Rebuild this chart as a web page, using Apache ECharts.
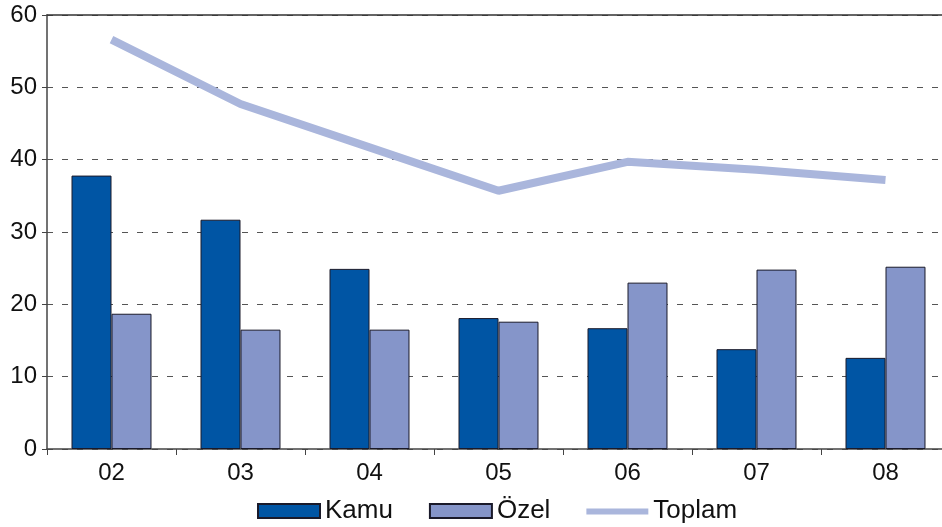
<!DOCTYPE html>
<html>
<head>
<meta charset="utf-8">
<script src="https://cdn.jsdelivr.net/npm/echarts@6/dist/echarts.min.js"></script>
<style>
  html, body { margin: 0; padding: 0; background: #fff; overflow: hidden; }
  #chart { width: 950px; height: 527px; }
</style>
</head>
<body>
<div id="chart"></div>
<script>
const years = ['02', '03', '04', '05', '06', '07', '08']
const kamu = [37.8, 31.7, 24.9, 18.1, 16.7, 13.8, 12.6]
const ozel = [18.7, 16.5, 16.5, 17.6, 23.0, 24.8, 25.2]
const toplam = [56.6, 47.7, 41.7, 35.7, 39.7, 38.6, 37.2]

const font = 'Liberation Sans, Arial, Helvetica, sans-serif'
// thin bar icon for the line legend item (tiny dots stretch the box to full height)
const lineIcon = 'path://M0,0h0.01v0.01h-0.01z M0,4.5h62v6H0z M0,14h0.01v0.01h-0.01z'

const chart = echarts.init(document.getElementById('chart'))

chart.setOption({
    animation: false,
    textStyle: { fontFamily: font },
    // the chart's last category runs a little past the visible edge
    grid: { left: 47, right: 0, top: 15, bottom: 78 },
    legend: {
        bottom: -2,
        left: 252,
        itemWidth: 62,
        itemHeight: 14,
        itemGap: 36,
        textStyle: { fontSize: 26, color: '#111', fontFamily: font },
        data: [
            { name: 'Kamu', icon: 'rect' },
            { name: 'Özel', icon: 'rect' },
            { name: 'Toplam', icon: lineIcon, itemStyle: { color: '#aab6dc', borderWidth: 0 } }
        ]
    },
    xAxis: [
        {
            type: 'category',
            data: years,
            axisLine: { lineStyle: { color: '#444', width: 1.5 } },
            axisTick: { show: true, length: 6, lineStyle: { color: '#444' } },
            axisLabel: { fontSize: 24, color: '#111', margin: 12 }
        },
        {
            type: 'category',
            position: 'top',
            data: years,
            axisLine: { show: true, lineStyle: { color: '#333', width: 1.5 } },
            axisTick: { show: false },
            axisLabel: { show: false }
        }
    ],
    yAxis: {
        type: 'value',
        min: 0,
        max: 60,
        interval: 10,
        axisLine: { show: true, lineStyle: { color: '#444', width: 1.5 } },
        axisTick: { show: true, length: 5, lineStyle: { color: '#444' } },
        axisLabel: { fontSize: 24, color: '#111', margin: 10 },
        splitLine: { show: true, lineStyle: { color: '#555', type: [6, 9], width: 1 } }
    },
    series: [
        {
            name: 'Kamu',
            type: 'bar',
            data: kamu,
            barWidth: '31%',
            barGap: '0%',
            itemStyle: { color: '#0055a4', borderColor: '#1a1a2a', borderWidth: 1 }
        },
        {
            name: 'Özel',
            type: 'bar',
            data: ozel,
            barWidth: '31%',
            barGap: '0%',
            itemStyle: { color: '#8595c9', borderColor: '#1a1a2a', borderWidth: 1 }
        },
        {
            name: 'Toplam',
            type: 'line',
            data: toplam,
            symbol: 'none',
            itemStyle: { color: '#aab6dc' },
            lineStyle: { color: '#aab6dc', width: 8 },
            z: 5
        }
    ]
})
</script>
</body>
</html>
